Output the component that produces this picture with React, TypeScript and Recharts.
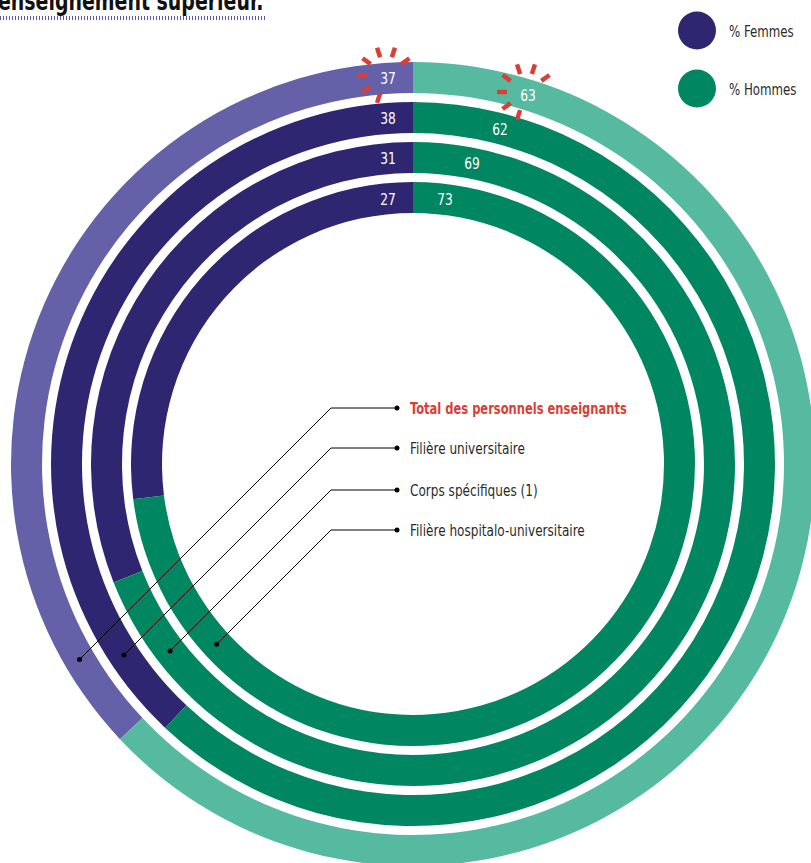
import React from 'react';
import { PieChart, Pie, Cell, Legend } from 'recharts';

// ---------- data ----------
const categories = [
  'Total des personnels enseignants',
  'Filière universitaire',
  'Corps spécifiques (1)',
  'Filière hospitalo-universitaire',
];
const femmesPct = [37, 38, 31, 27];
const hommesPct = [63, 62, 69, 73];
const seriesNames = ['% Femmes', '% Hommes'];
const titleText = 'enseignement supérieur.';

// ---------- layout / style ----------
const W = 811;
const H = 863;
const CX = 413;
const CY = 464;
const OUTER = 402;
const THICK = 31;
const STEP = 40;
const FONT = "'Liberation Sans Narrow', 'DejaVu Sans Condensed', 'Roboto', sans-serif";
const femmesColors = ['#6561A8', '#2F2671', '#2F2671', '#2F2671'];
const hommesColors = ['#56BAA1', '#008660', '#008660', '#008660'];
const legendColors = ['#2F2671', '#008660'];
const RED = '#DB3E37';
const catTextY = [408, 448, 490, 530];
const hommesLabelDx = [115, 87, 59, 32];
const femmesLabelDx = -25;

const NarrowText = ({ x, y, sx, children, ...rest }: any) => (
  <g transform={`translate(${x},${y}) scale(${sx},1)`}>
    <text x={0} y={0} fontFamily={FONT} {...rest}>
      {children}
    </text>
  </g>
);

const makeLabel = (ring: number) => (props: any) => {
  const { cx, cy, innerRadius, outerRadius, index } = props;
  const r = (innerRadius + outerRadius) / 2;
  const dx = index === 0 ? femmesLabelDx : hommesLabelDx[ring];
  const x = cx + dx;
  const y = cy - Math.sqrt(r * r - dx * dx);
  const value = props.value ?? (index === 0 ? femmesPct[ring] : hommesPct[ring]);
  const parts: any[] = [];
  if (ring === 0) {
    const bx = x - 2;
    const by = y - 3;
    for (let k = 1; k <= 7; k++) {
      const a = (k * 36 * Math.PI) / 180;
      parts.push(
        <line
          key={'b' + k}
          x1={bx + 19 * Math.cos(a)}
          y1={by - 19 * Math.sin(a)}
          x2={bx + 29 * Math.cos(a)}
          y2={by - 29 * Math.sin(a)}
          stroke={RED}
          strokeWidth={4.5}
        />
      );
    }
  }
  parts.push(
    <NarrowText
      key="v"
      x={x}
      y={y}
      sx={0.85}
      fill="#fff"
      fontSize={16}
      textAnchor="middle"
      dominantBaseline="central"
    >
      {value}
    </NarrowText>
  );
  if (index === 0) {
    const ty = catTextY[ring];
    const x0 = cx - 82;
    const wx = x0 - cx;
    const wy = ty - cy;
    const wd = (-wx + wy) / Math.SQRT2;
    const t = -wd + Math.sqrt(wd * wd - (wx * wx + wy * wy) + r * r);
    const px = x0 - t / Math.SQRT2;
    const py = ty + t / Math.SQRT2;
    parts.push(
      <g key="lead">
        <polyline
          points={`${cx - 16},${ty} ${x0},${ty} ${px},${py}`}
          fill="none"
          stroke="#000"
          strokeWidth={1}
        />
        <circle cx={cx - 16} cy={ty} r={2.5} fill="#000" />
        <circle cx={px} cy={py} r={2.5} fill="#000" />
        <NarrowText
          x={cx - 3}
          y={ty}
          sx={ring === 0 ? 0.8 : 0.84}
          fontSize={16}
          fontWeight={ring === 0 ? 700 : 400}
          fill={ring === 0 ? RED : '#2b2b2b'}
          dominantBaseline="central"
        >
          {categories[ring]}
        </NarrowText>
      </g>
    );
  }
  return <g>{parts}</g>;
};

const renderLegend = () => (
  <svg width={151} height={120}>
    {seriesNames.map((n, i) => (
      <g key={n}>
        <circle cx={37} cy={30.5 + i * 58} r={19} fill={legendColors[i]} />
        <NarrowText
          x={69}
          y={30.5 + i * 58}
          sx={0.82}
          fontSize={16}
          fill="#2b2b2b"
          dominantBaseline="central"
        >
          {n}
        </NarrowText>
      </g>
    ))}
  </svg>
);

export default function App() {
  const order = [3, 2, 1, 0];
  return (
    <div style={{ position: 'absolute', left: 0, top: 0, width: W, height: H, overflow: 'hidden', background: '#fff' }}>
      <PieChart width={W} height={H} margin={{ top: 0, right: 0, bottom: 0, left: 0 }}>
        {order.map((ring) => {
          const data = [
            { name: seriesNames[0], value: femmesPct[ring] },
            { name: seriesNames[1], value: hommesPct[ring] },
          ];
          const outer = OUTER - STEP * ring;
          return (
            <Pie
              key={ring}
              data={data}
              dataKey="value"
              nameKey="name"
              cx={CX}
              cy={CY}
              innerRadius={outer - THICK}
              outerRadius={outer}
              startAngle={90}
              endAngle={450}
              stroke="none"
              isAnimationActive={false}
              labelLine={false}
              label={makeLabel(ring)}
            >
              <Cell fill={femmesColors[ring]} />
              <Cell fill={hommesColors[ring]} />
            </Pie>
          );
        })}
        <Legend
          content={renderLegend}
          wrapperStyle={{ position: 'absolute', left: 660, top: 0, width: 151, height: 120 }}
        />
      </PieChart>
      <svg width={300} height={24} style={{ position: 'absolute', left: 0, top: 0 }}>
        <NarrowText x={-2} y={10} sx={0.78} fontWeight={700} fontSize={27} fill="#111">
          {titleText}
        </NarrowText>
        <line x1={0} y1={18} x2={266} y2={18} stroke="#5A57A0" strokeWidth={4} strokeDasharray="1 2" />
      </svg>
    </div>
  );
}
